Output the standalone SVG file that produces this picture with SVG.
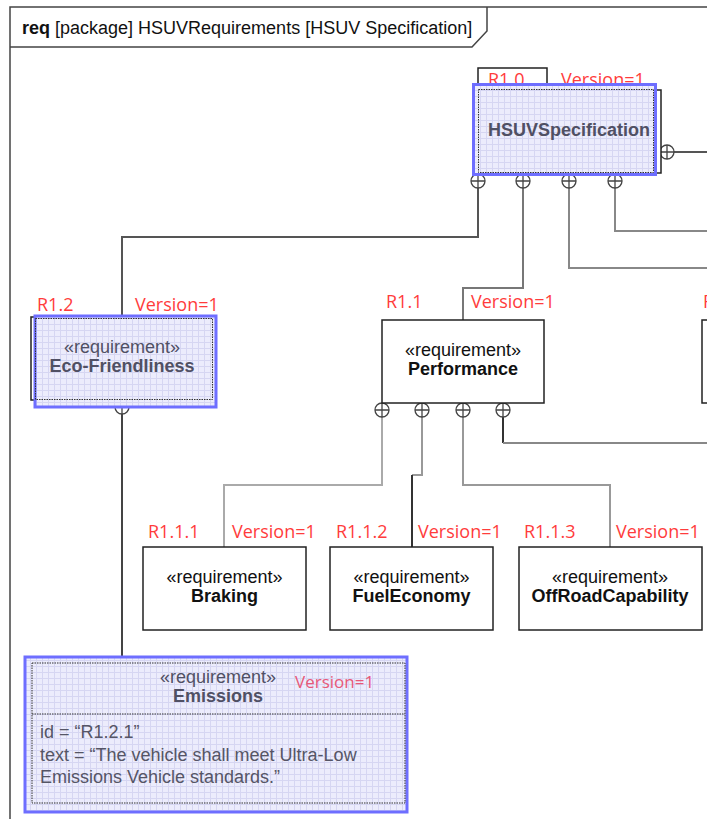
<svg xmlns="http://www.w3.org/2000/svg" width="707" height="819" viewBox="0 0 707 819">
<defs>
<style>
.frame{fill:none;stroke:#444;stroke-width:1.5}
.ttl{font-family:"Liberation Sans",Arial,sans-serif;font-size:18px;fill:#111}
.node{fill:#fff;stroke:#222;stroke-width:1.5}
.hl{fill:url(#grid);stroke:#6e6eff;stroke-width:3}
.dot{fill:none;stroke:#333;stroke-width:1;stroke-dasharray:1.5,1}
.st{font-family:"Liberation Sans",Arial,sans-serif;font-size:18px;fill:#111;text-anchor:middle}
.nm{font-family:"Liberation Sans",Arial,sans-serif;font-size:18px;font-weight:bold;fill:#111;text-anchor:middle}
.sel{fill:#505064}
.cmp{font-family:"Liberation Sans",Arial,sans-serif;font-size:18px;fill:#555566}
.red{font-family:"Open Sans","Noto Sans",sans-serif;font-size:18px;fill:#ff3c3c}
.c{fill:none;stroke-width:2}
.port circle{fill:#fff;stroke:#444;stroke-width:1.3}
.port path{stroke:#444;stroke-width:1.3}
</style>
<pattern id="grid" width="6" height="6" patternUnits="userSpaceOnUse">
<rect width="6" height="6" fill="#ececfc"/>
<path d="M0 0.5H6M0.5 0V6" stroke="#d6d6f2" stroke-width="1"/>
</pattern>
<g id="port" class="port"><circle r="7"/><path d="M-7 0H7M0 -7V7"/></g>
</defs>
<rect width="707" height="819" fill="#fff"/>
<g id="frame">
<path class="frame" d="M10 819V7H707"/>
<path class="frame" d="M10 47H472L487 31V7"/>
<text class="ttl" x="22" y="34"><tspan font-weight="bold">req</tspan> [package] HSUVRequirements [HSUV Specification]</text>
</g>
<g id="connectors">
<path class="c" stroke="#555" d="M478 188V237H122V316"/>
<path class="c" stroke="#777" d="M523 188V288H463V320"/>
<path class="c" stroke="#888" d="M569 188V268H707"/>
<path class="c" stroke="#888" d="M615 188V231H707"/>
<path class="c" stroke="#555" d="M674 152H707"/>
<path class="c" stroke="#aaa" d="M382 417V485H224V547"/>
<path class="c" stroke="#999" d="M422 417V475H412"/>
<path class="c" stroke="#333" d="M412 475V547"/>
<path class="c" stroke="#999" d="M463 417V485H610V547"/>
<path class="c" stroke="#333" d="M503 417V443"/>
<path class="c" stroke="#888" d="M503 443H707"/>
<path class="c" stroke="#444" d="M122 414V660"/>
<use href="#port" x="478" y="181"/>
<use href="#port" x="523" y="181"/>
<use href="#port" x="569" y="181"/>
<use href="#port" x="615" y="181"/>
<use href="#port" x="667" y="152"/>
<use href="#port" x="382" y="410"/>
<use href="#port" x="422" y="410"/>
<use href="#port" x="463" y="410"/>
<use href="#port" x="503" y="410"/>
<use href="#port" x="122" y="407"/>
</g>
<g id="HSUVSpecification">
<rect class="node" x="478" y="68" width="69" height="22" fill="none"/>
<rect class="node" x="478" y="90" width="183" height="83"/>
<text class="red" x="488" y="86">R1.0</text>
<text class="red" x="561" y="86">Version=1</text>
<rect class="hl" x="473.5" y="84.5" width="182" height="90"/>
<rect class="dot" x="478.5" y="89.5" width="175" height="83"/>
<text class="nm sel" x="569" y="136">HSUVSpecification</text>
</g>
<g id="EcoFriendliness">
<text class="red" x="37" y="311">R1.2</text>
<text class="red" x="135" y="311">Version=1</text>
<rect class="node" x="31" y="317" width="183" height="83"/>
<rect class="hl" x="35" y="316" width="181" height="91"/>
<rect class="dot" x="35.5" y="318.5" width="177" height="81"/>
<text class="st sel" x="122" y="353">«requirement»</text>
<text class="nm sel" x="122" y="372">Eco-Friendliness</text>
</g>
<g id="Performance">
<text class="red" x="386" y="308">R1.1</text>
<text class="red" x="471" y="308">Version=1</text>
<rect class="node" x="382" y="320" width="162" height="83"/>
<text class="st" x="463" y="356">«requirement»</text>
<text class="nm" x="463" y="375">Performance</text>
</g>
<g id="R13">
<text class="red" x="703" y="308">R1.3</text>
<rect class="node" x="702" y="320" width="40" height="83"/>
</g>
<g id="Braking">
<text class="red" x="148" y="538">R1.1.1</text>
<text class="red" x="232" y="538">Version=1</text>
<rect class="node" x="143" y="547" width="163" height="83"/>
<text class="st" x="224.5" y="583">«requirement»</text>
<text class="nm" x="224.5" y="602">Braking</text>
</g>
<g id="FuelEconomy">
<text class="red" x="336" y="538">R1.1.2</text>
<text class="red" x="418" y="538">Version=1</text>
<rect class="node" x="330" y="547" width="163" height="83"/>
<text class="st" x="411.5" y="583">«requirement»</text>
<text class="nm" x="411.5" y="602">FuelEconomy</text>
</g>
<g id="OffRoadCapability">
<text class="red" x="524" y="538">R1.1.3</text>
<text class="red" x="616" y="538">Version=1</text>
<rect class="node" x="519" y="547" width="183" height="83"/>
<text class="st" x="610" y="583">«requirement»</text>
<text class="nm" x="610" y="602">OffRoadCapability</text>
</g>
<g id="Emissions">
<rect class="hl" x="25" y="657" width="382" height="155"/>
<rect class="dot" x="32" y="663" width="373" height="140"/>
<line class="dot" x1="32" y1="714" x2="405" y2="714"/>
<text class="st sel" x="218" y="683">«requirement»</text>
<text class="nm sel" x="218" y="702">Emissions</text>
<text class="red" x="295" y="688" style="fill:#e85878;font-size:17px">Version=1</text>
<text class="cmp" x="40" y="738">id = “R1.2.1”</text>
<text class="cmp" x="40" y="761">text = “The vehicle shall meet Ultra-Low</text>
<text class="cmp" x="40" y="783">Emissions Vehicle standards.”</text>
</g>
</svg>
